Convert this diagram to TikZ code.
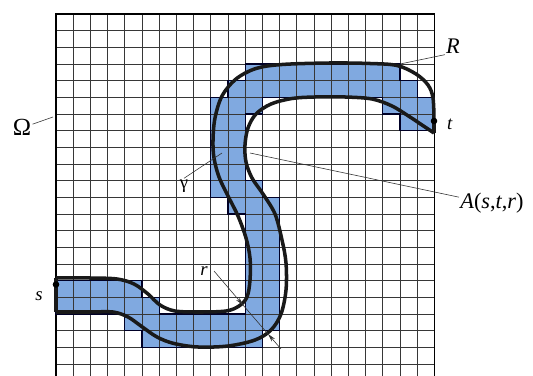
\documentclass[tikz,border=0pt]{standalone}
\usepackage{fontspec}
\setmainfont{Liberation Serif}
\usetikzlibrary{arrows.meta}

\definecolor{cellblue}{RGB}{128,169,224}
\definecolor{gridgray}{RGB}{55,55,55}

% outline of the region R, in cell units
\newcommand{\regionR}{(0,16) -- (5,16) -- (5,17) -- (6,17) -- (6,18) -- (11,18) -- (11,12) -- (10,12) -- (10,11) -- (9,11) -- (9,5) -- (10,5) -- (10,4) -- (11,4) -- (11,3) -- (20,3) -- (20,4) -- (21,4) -- (21,5) -- (22,5) -- (22,7) -- (20,7) -- (20,6) -- (19,6) -- (19,5) -- (12,5) -- (12,6) -- (11,6) -- (11,10) -- (12,10) -- (12,11) -- (13,11) -- (13,19) -- (12,19) -- (12,20) -- (5,20) -- (5,19) -- (4,19) -- (4,18) -- (0,18) -- cycle}

\begin{document}
\begin{tikzpicture}[x=0.03cm, y=-0.03cm,
    tube/.style={line width=3pt, black!90, line join=round},
    leader/.style={line width=0.5pt, black!80},
    biglab/.style={font=\fontsize{19}{22}\selectfont, inner sep=1pt},
    smalllab/.style={font=\fontsize{16}{19}\selectfont, inner sep=1pt}]
    \useasboundingbox (0,0) rectangle (533,376);
    \clip (0,0) rectangle (533,376);

    % Grid Omega with the cells of R
    \begin{scope}[shift={(56,14)}, x=0.516cm, y=-0.5cm]
        \fill[cellblue] \regionR;
        \foreach \i in {0,...,22}
            \draw[gridgray, line width=0.7pt] (\i,0) -- (\i,22.5);
        \foreach \j in {0,...,22}
            \draw[gridgray, line width=0.7pt] (0,\j) -- (22,\j);
        \draw[black, line width=1.3pt] (0,22.5) -- (0,0) -- (22,0) -- (22,22.5);
        \draw[black!85!blue, line width=1.1pt] \regionR;
        \coordinate (Rcorner) at (20,3);
    \end{scope}

    % Tube A(s,t,r)
    \draw[tube] plot[smooth, tension=0.55] coordinates {(56,278) (90,278) (117,279) (134,284) (148,294) (160,305) (175,311) (200,312) (226,311) (239,306) (247,297) (250,280) (250,258) (246,238) (238,216) (228,196) (219,177) (214,158) (213,140) (215,118) (222,96) (236,79) (256,68.5) (282,64.5) (330,63) (370,63.5) (397,65.5) (416,74) (428,85) (433,98) (434,121)};
    \draw[tube] plot[smooth, tension=0.55] coordinates {(56,312) (90,312) (113,312) (128,317) (141,326) (157,337) (174,343.5) (198,347) (228,346) (255,340) (271,330) (281,314) (286,290) (286,263) (282,240) (275,214) (263,194) (252,178) (246,162) (245,145) (248,128) (256,114) (271,104) (292,98.5) (315,97) (345,97) (372,99) (392,106) (410,117) (422,125) (434,133)};
    \draw[tube] (56,278) -- (56,312);
    \draw[tube] (434,119) -- (434,133);

    % End points
    \fill (56,284.5) circle (3.3);
    \fill (434,121) circle (3.3);

    % Labels
    \node[font=\fontsize{21}{24}\selectfont, inner sep=1pt] (omega) at (22,127) {Ω};
    \coordinate (omegatip) at (53,117);
    \draw[leader] (omega.15) -- (omegatip);

    \node[biglab] (Rlab) at (453,46) {\textit{R}};
    \draw[leader] (Rlab.south west) -- (Rcorner);

    \node[smalllab] (tlab) at (450,124) {\textit{t}};
    \node[smalllab] (slab) at (39,296) {\textit{s}};

    \node[biglab] (Alab) at (492,203) {\textit{A}(\textit{s},\textit{t},\textit{r})};
    \coordinate (Atip) at (250,153);
    \draw[leader] (Alab.170) -- (Atip);

    \node[smalllab] (gammalab) at (184,186) {γ};
    \coordinate (gammatip) at (222,153);
    \draw[leader] (gammalab.north) -- (gammatip);

    % Width r
    \node[smalllab] (rlab) at (204,271) {\textit{r}};
    \coordinate (rstart) at (214,271);
    \coordinate (rin) at (243,305);
    \coordinate (rout) at (268,334);
    \coordinate (rend) at (281,349);
    \draw[leader, -{Stealth[length=7pt, width=3.5pt]}] (rstart) -- (rin);
    \draw[leader] (rin) -- (rout);
    \draw[leader, -{Stealth[length=7pt, width=3.5pt]}] (rend) -- (rout);
\end{tikzpicture}
\end{document}
